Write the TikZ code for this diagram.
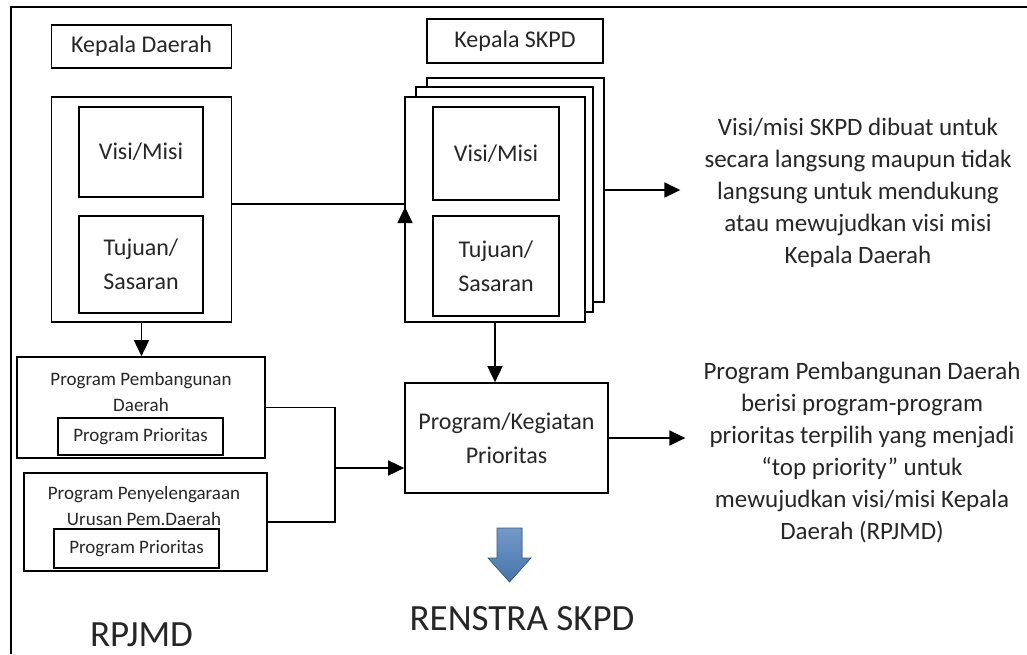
\documentclass[tikz,border=0pt]{standalone}
\usepackage{fontspec}
\setmainfont{Carlito}
\usetikzlibrary{arrows.meta}

\definecolor{arrowblue}{RGB}{79,129,189}

\begin{document}
\begin{tikzpicture}[
  x=1pt, y=-1pt, line width=1.7pt,
  >={Triangle[length=16pt,width=15pt]},
  every node/.style={text=black!85, font=\fontsize{24}{34}\selectfont},
  box/.style={draw, rectangle, fill=white, inner sep=0pt, align=center},
  small/.style={align=center, font=\fontsize{19}{26}\selectfont},
  note/.style={align=center, font=\fontsize{25}{32}\selectfont},
  big/.style={font=\fontsize{37}{40}\selectfont},
]
\useasboundingbox (0,0) rectangle (1027,654);
% outer frame (only top and left visible)
\draw (1027,7) -- (11,7) -- (11,654);

% Kepala Daerah
\node[box, minimum width=180, minimum height=43] (kd) at (141.5,46.5) {Kepala Daerah};
\node[box, minimum width=180, minimum height=225] (lframe) at (141.5,209.5) {};
\node[box, minimum width=124, minimum height=90] (lvisi) at (141,152) {Visi/Misi};
\node[box, minimum width=124, minimum height=97] (ltujuan) at (141,264.5) {Tujuan/\\Sasaran};

% Kepala SKPD, stacked sheets
\node[box, minimum width=176, minimum height=44] (ks) at (515,41) {Kepala SKPD};
\node[box, minimum width=177, minimum height=224] (back) at (515.5,190) {};
\node[box, minimum width=177, minimum height=225] (mid) at (504.5,199.5) {};
\node[box, minimum width=180, minimum height=225] (front) at (495,209.5) {};
\node[box, minimum width=126, minimum height=93] (rvisi) at (496,153.5) {Visi/Misi};
\node[box, minimum width=126, minimum height=100] (rtujuan) at (496,266) {Tujuan/\\Sasaran};

% RPJMD programs
\node[box, minimum width=248, minimum height=101] (ppd) at (141,407.5) {};
\node[small] (ppdt) at (141,391.5) {Program Pembangunan\\Daerah};
\node[box, small, minimum width=165, minimum height=37] (ppdp) at (140.5,436.5) {Program Prioritas};
\node[box, minimum width=243, minimum height=98] (ppu) at (145.5,522) {};
\node[small] (pput) at (144,505.5) {Program Penyelengaraan\\Urusan Pem.Daerah};
\node[box, small, minimum width=165, minimum height=39] (ppup) at (136.5,548.5) {Program Prioritas};

% priorities
\node[box, minimum width=203, minimum height=110] (prog) at (506.5,438) {Program/Kegiatan\\Prioritas};

% notes
\node[note] (desc1) at (858,193) {Visi/misi SKPD dibuat untuk\\secara langsung maupun tidak\\langsung untuk mendukung\\atau mewujudkan visi misi\\Kepala Daerah};
\node[note] (desc2) at (862,453) {Program Pembangunan Daerah\\berisi program-program\\prioritas terpilih yang menjadi\\“top priority” untuk\\mewujudkan visi/misi Kepala\\Daerah (RPJMD)};

% titles
\node[big] (rpjmd) at (141.5,635) {RPJMD};
\node[big] (renstra) at (522,619) {RENSTRA SKPD};

% connectors
\coordinate (ja) at (405,204);
\draw (lframe.east |- ja) -- (ja);
\coordinate (up) at (405,207);
\draw[->] (up |- 0,236) -- (up);
\draw[->, shorten >=20pt] (back.east) -- (back.east -| desc1.west);
\draw[->] (lframe.south) -- (lframe.south |- ppd.north);
\draw[->] (front.south) -- (front.south |- prog.north);
\coordinate (jb) at (335,468);
\draw (ppd.east) -| (jb) |- (ppu.east);
\draw[->] (jb) -- (jb -| prog.west);
\draw[->, shorten >=14pt] (prog.east) -- (prog.east -| desc2.west);

% arrow down to RENSTRA SKPD
\fill[top color=arrowblue!80, bottom color=arrowblue!90!black, draw=arrowblue!70!black, line width=0.6pt]
  (497,528) -- (522,528) -- (522,558) -- (531,558) -- (509.5,582)
  -- (488,558) -- (497,558) -- cycle;
\end{tikzpicture}
\end{document}
